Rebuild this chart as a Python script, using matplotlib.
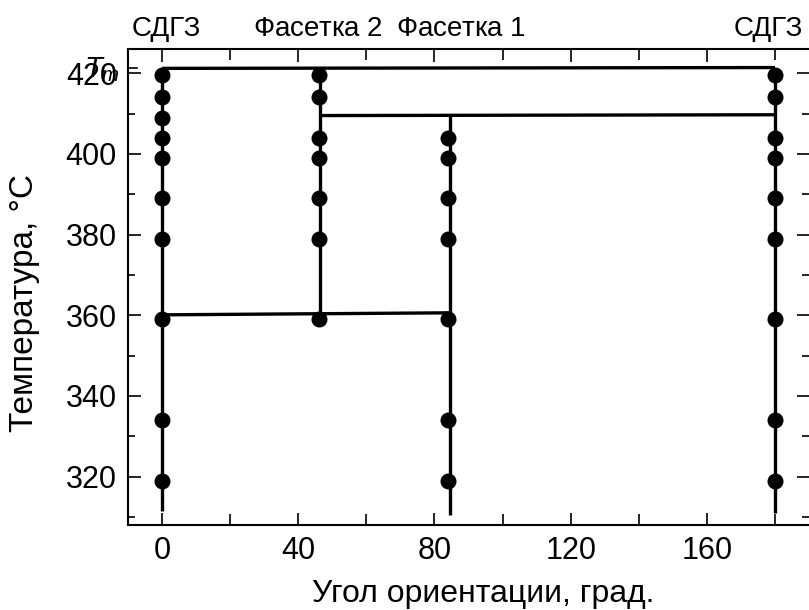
import matplotlib
matplotlib.use('Agg')
from matplotlib import pyplot as plt
from matplotlib.ticker import MultipleLocator

plt.rcParams['font.family'] = ['Liberation Sans', 'DejaVu Sans']
plt.rcParams['mathtext.fontset'] = 'custom'
plt.rcParams['mathtext.rm'] = 'Liberation Sans'
plt.rcParams['mathtext.it'] = 'Liberation Sans:italic'

# grain orientation angles (deg) and measured temperatures (C)
angles = [0, 46, 84, 180]
temps_0 = [419.5, 414, 409, 404, 399, 389, 379, 359, 334, 319]
temps_46 = [419.5, 414, 404, 399, 389, 379, 359]
temps_84 = [404, 399, 389, 379, 359, 334, 319]
temps_180 = [419.5, 414, 404, 399, 389, 379, 359, 334, 319]

# vertical lines: (angle, T_low, T_high)
vlines = [(0, 311.5, 421.2), (46.5, 360.2, 419.5), (84.5, 310.5, 409.5), (180, 311, 421.2)]
# horizontal tie lines: (x0, x1, T0, T1)
hlines = [(0, 180, 421.2, 421.4), (46.5, 180, 409.5, 409.7), (0, 84.5, 360.1, 360.6)]

top_labels = ['СДГЗ', 'Фасетка $\\mathit{2}$', 'Фасетка $\\mathit{1}$', 'СДГЗ']

fig = plt.figure(figsize=(8.09, 6.10), dpi=100)
ax = fig.add_axes([128 / 809, 85 / 610, 681 / 809, 476 / 610])

lw = 2.4
for x, t0, t1 in vlines:
    ax.plot([x, x], [t0, t1], color='black', lw=lw, solid_capstyle='butt')
for x0, x1, t0, t1 in hlines:
    ax.plot([x0, x1], [t0, t1], color='black', lw=lw, solid_capstyle='butt')

ax.plot([angles[0]] * len(temps_0), temps_0, 'o', color='black', ms=10.5)
ax.plot([angles[1]] * len(temps_46), temps_46, 'o', color='black', ms=10.5)
ax.plot([angles[2]] * len(temps_84), temps_84, 'o', color='black', ms=10.5)
ax.plot([angles[3]] * len(temps_180), temps_180, 'o', color='black', ms=10.5)

ax.set_xlim(-10, 190)
ax.set_ylim(308, 426)
ax.xaxis.set_major_locator(MultipleLocator(40))
ax.xaxis.set_minor_locator(MultipleLocator(20))
ax.yaxis.set_major_locator(MultipleLocator(20))
ax.yaxis.set_minor_locator(MultipleLocator(10))
ax.tick_params(which='both', direction='in', top=True, right=True, width=1.2,
               labelsize=22, pad=8)
ax.tick_params(which='major', length=9)
ax.tick_params(which='minor', length=5)
ax.tick_params(axis='x', which='minor', top=True, length=8)
for s in ax.spines.values():
    s.set_linewidth(1.5)
ax.spines['right'].set_visible(False)

# short marker for T_m on left axis
ax.plot([-10, -7.5], [421.2, 421.2], color='black', lw=1.2, clip_on=False)
ax.text(-12.5, 421.0, '$T_m$', fontsize=21, ha='right', va='center')

fig.text(483 / 809, 16 / 610, 'Угол ориентации, град.', fontsize=23, ha='center', va='center')
fig.text(25 / 809, 1 - 303 / 610, 'Температура, °C', fontsize=24, ha='center', va='center',
         rotation=90)

top_x = [166, 318, 461, 768]
for px, lab in zip(top_x, top_labels):
    fig.text(px / 809, 1 - 29 / 610, lab, fontsize=20, ha='center', va='center')

fig.savefig('out.png', dpi=100)
